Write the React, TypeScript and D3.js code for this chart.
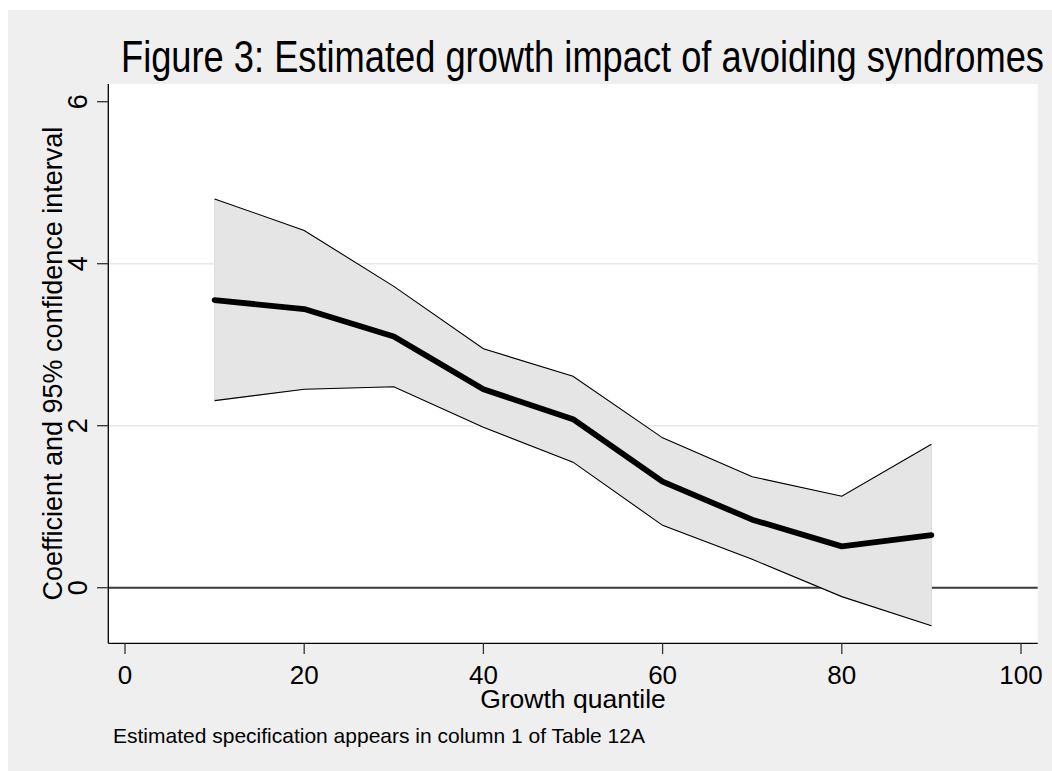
import React, { useLayoutEffect, useRef, useState } from "react";
import * as d3 from "d3";

const quantiles = [10, 20, 30, 40, 50, 60, 70, 80, 90];
const coefficient = [3.55, 3.44, 3.1, 2.45, 2.08, 1.31, 0.84, 0.51, 0.65];
const upperCI = [4.8, 4.41, 3.72, 2.95, 2.61, 1.85, 1.37, 1.13, 1.77];
const lowerCI = [2.31, 2.45, 2.48, 1.98, 1.55, 0.77, 0.35, -0.11, -0.47];
const xTicks = [0, 20, 40, 60, 80, 100];
const yTicks = [0, 2, 4, 6];
const gridValues = [2, 4];

const titleText = "Figure 3: Estimated growth impact of avoiding syndromes";
const yLabel = "Coefficient and 95% confidence interval";
const xLabel = "Growth quantile";
const noteText = "Estimated specification appears in column 1 of Table 12A";

const W = 1052;
const H = 771;
const plotLeft = 108.3;
const plotRight = 1037.7;
const plotTop = 84;
const plotBottom = 643.3;
const titleLeft = 121;
const titleWidth = 923;
const FONT = "'Liberation Sans', Arial, Helvetica, sans-serif";

export default function App() {
  const titleRef = useRef<SVGTextElement>(null);
  const [titleScale, setTitleScale] = useState(0.79);

  useLayoutEffect(() => {
    if (titleRef.current) {
      const len = titleRef.current.getComputedTextLength();
      if (len > 0) setTitleScale(titleWidth / len);
    }
  }, []);

  const x = d3.scaleLinear().domain([0, 100]).range([125, 1021]);
  const y = d3.scaleLinear().domain([0, 6]).range([587.7, 101.7]);

  const rows = quantiles.map((q, i) => ({
    q,
    m: coefficient[i],
    hi: upperCI[i],
    lo: lowerCI[i],
  }));

  const area = d3
    .area<any>()
    .x((d) => x(d.q))
    .y0((d) => y(d.lo))
    .y1((d) => y(d.hi));
  const lineM = d3.line<any>().x((d) => x(d.q)).y((d) => y(d.m));
  const lineHi = d3.line<any>().x((d) => x(d.q)).y((d) => y(d.hi));
  const lineLo = d3.line<any>().x((d) => x(d.q)).y((d) => y(d.lo));

  return (
    <svg
      width={W}
      height={H}
      style={{ position: "absolute", left: 0, top: 0, display: "block" }}
      fontFamily={FONT}
    >
      <rect x={0} y={0} width={W} height={H} fill="#ffffff" />
      <rect x={8} y={10} width={W - 8} height={H - 10} fill="#efefef" />
      <rect
        x={plotLeft}
        y={plotTop}
        width={plotRight - plotLeft}
        height={plotBottom - plotTop}
        fill="#ffffff"
      />
      {gridValues.map((v) => (
        <line
          key={"g" + v}
          x1={plotLeft}
          x2={plotRight}
          y1={y(v)}
          y2={y(v)}
          stroke="#e8e8e8"
          strokeWidth={1.6}
        />
      ))}
      <line
        x1={plotLeft}
        x2={plotRight}
        y1={y(0)}
        y2={y(0)}
        stroke="#3a3a3a"
        strokeWidth={2}
      />
      <path d={area(rows) || ""} fill="#e5e5e5" stroke="#dcdcdc" strokeWidth={1} />
      <path d={lineHi(rows) || ""} fill="none" stroke="#000" strokeWidth={1.1} />
      <path d={lineLo(rows) || ""} fill="none" stroke="#000" strokeWidth={1.1} />
      <path
        d={lineM(rows) || ""}
        fill="none"
        stroke="#000"
        strokeWidth={5.8}
        strokeLinejoin="round"
        strokeLinecap="round"
      />
      {/* axes */}
      <line x1={plotLeft} x2={plotLeft} y1={plotTop} y2={plotBottom} stroke="#000" strokeWidth={1.3} />
      <line x1={plotLeft} x2={plotRight} y1={plotBottom} y2={plotBottom} stroke="#000" strokeWidth={1.3} />
      {yTicks.map((v) => (
        <g key={"yt" + v}>
          <line x1={97} x2={plotLeft} y1={y(v)} y2={y(v)} stroke="#333" strokeWidth={1.3} />
          <text
            transform={`translate(87,${y(v)}) rotate(-90)`}
            textAnchor="middle"
            fontSize={27}
            fill="#000"
          >
            {v}
          </text>
        </g>
      ))}
      {xTicks.map((v) => (
        <g key={"xt" + v}>
          <line x1={x(v)} x2={x(v)} y1={plotBottom} y2={654} stroke="#333" strokeWidth={1.3} />
          <text x={x(v)} y={684} textAnchor="middle" fontSize={26} fill="#000">
            {v}
          </text>
        </g>
      ))}
      <text x={573} y={708} textAnchor="middle" fontSize={26.5} fill="#000">
        {xLabel}
      </text>
      <text
        transform={`translate(61.5,${(plotTop + plotBottom) / 2}) rotate(-90)`}
        textAnchor="middle"
        fontSize={27}
        fill="#000"
      >
        {yLabel}
      </text>
      <g transform={`translate(${titleLeft},72) scale(${titleScale},1)`}>
        <text ref={titleRef} x={0} y={0} fontSize={45} fill="#000">
          {titleText}
        </text>
      </g>
      <text x={113} y={742.5} fontSize={21} fill="#000">
        {noteText}
      </text>
    </svg>
  );
}
